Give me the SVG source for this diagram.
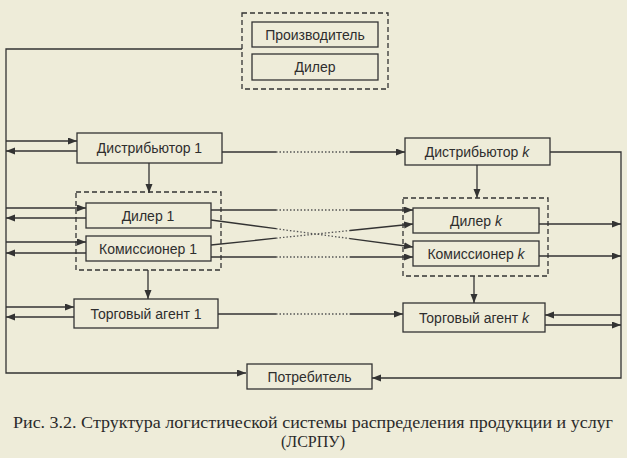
<svg xmlns="http://www.w3.org/2000/svg" width="627" height="458" viewBox="0 0 627 458">
<style>
.bg{fill:#eeecd9}
.box{fill:#eeecd9;stroke:#333;stroke-width:1.3}
.grp{fill:none;stroke:#333;stroke-width:1.3;stroke-dasharray:5,3}
.t{font-family:"Liberation Sans",Arial,sans-serif;font-size:14px;fill:#2e2e2e;text-anchor:middle}
.i{font-style:italic}
.c{fill:none;stroke:#333;stroke-width:1.3}
.d{fill:none;stroke:#555;stroke-width:1.3;stroke-dasharray:1.5,2}
.a{marker-end:url(#ar)}
.cap{font-family:"Liberation Serif","Times New Roman",serif;font-size:16px;fill:#2a2a2a;text-anchor:middle}
</style>
<defs>
<marker id="ar" markerUnits="userSpaceOnUse" markerWidth="10" markerHeight="8" refX="9" refY="3.5" orient="auto">
<path d="M0,0 L9,3.5 L0,7 z" fill="#333"/>
</marker>
</defs>
<rect class="bg" x="0" y="0" width="627" height="458"/>
<g id="connectors">
<path class="c a" d="M242,49 H6 V373 H246"/>
<path class="c a" d="M6,141 H77"/>
<path class="c a" d="M77,151 H6"/>
<path class="c" d="M222,152 H276"/>
<path class="d" d="M276,152 H350"/>
<path class="c a" d="M350,152 H405"/>
<path class="c a" d="M149,163 V193"/>
<path class="c a" d="M550,152 H621 V378 H372"/>
<path class="c a" d="M477,165 V198"/>
<path class="c a" d="M6,208 H86"/>
<path class="c a" d="M86,218 H6"/>
<path class="c a" d="M6,242 H86"/>
<path class="c a" d="M86,253 H6"/>
<path class="c" d="M211,210 H276"/>
<path class="d" d="M276,210 H350"/>
<path class="c a" d="M350,210 H413"/>
<path class="c" d="M211,220 L276,228.7"/>
<path class="d" d="M276,228.7 L350,238.6"/>
<path class="c a" d="M350,238.6 L413,247"/>
<path class="c" d="M211,245 L276,238.2"/>
<path class="d" d="M276,238.2 L350,230.5"/>
<path class="c a" d="M350,230.5 L413,224"/>
<path class="c" d="M211,257 H276"/>
<path class="d" d="M276,257 H350"/>
<path class="c a" d="M350,257 H413"/>
<path class="c a" d="M539,224 H621"/>
<path class="c a" d="M539,256 H621"/>
<path class="c a" d="M148,270 V299"/>
<path class="c a" d="M6,307 H74"/>
<path class="c a" d="M74,317 H6"/>
<path class="c" d="M218,314 H276"/>
<path class="d" d="M276,314 H350"/>
<path class="c a" d="M350,314 H403"/>
<path class="c a" d="M474,276 V303"/>
<path class="c a" d="M621,315 H545"/>
<path class="c a" d="M545,325 H621"/>
</g>
<g id="grp-top"><rect class="grp" x="242" y="13" width="146" height="76"/></g>
<g id="proizvoditel"><rect class="box" x="252" y="22" width="126" height="25"/><text class="t" x="315" y="39.5">Производитель</text></g>
<g id="diler-top"><rect class="box" x="252" y="54" width="126" height="26"/><text class="t" x="315" y="72">Дилер</text></g>
<g id="distr1"><rect class="box" x="77" y="133" width="145" height="30"/><text class="t" x="149.5" y="153">Дистрибьютор 1</text></g>
<g id="distrk"><rect class="box" x="405" y="138" width="145" height="27"/><text class="t" x="477" y="156.5">Дистрибьютор <tspan class="i">k</tspan></text></g>
<g id="grp1"><rect class="grp" x="76" y="192" width="145" height="78"/></g>
<g id="diler1"><rect class="box" x="86" y="203" width="125" height="25"/><text class="t" x="148" y="220.5">Дилер 1</text></g>
<g id="kom1"><rect class="box" x="86" y="236" width="125" height="25"/><text class="t" x="148" y="253.5">Комиссионер 1</text></g>
<g id="grpk"><rect class="grp" x="403" y="198" width="145" height="78"/></g>
<g id="dilerk"><rect class="box" x="413" y="208" width="126" height="25"/><text class="t" x="476" y="225.5">Дилер <tspan class="i">k</tspan></text></g>
<g id="komk"><rect class="box" x="413" y="241" width="126" height="25"/><text class="t" x="476" y="258.5">Комиссионер <tspan class="i">k</tspan></text></g>
<g id="ta1"><rect class="box" x="74" y="299" width="144" height="29"/><text class="t" x="146" y="318.5">Торговый агент 1</text></g>
<g id="tak"><rect class="box" x="403" y="303" width="142" height="29"/><text class="t" x="474" y="322.5">Торговый агент <tspan class="i">k</tspan></text></g>
<g id="potrebitel"><rect class="box" x="247" y="364" width="125" height="25"/><text class="t" x="309.5" y="381.5">Потребитель</text></g>
<text class="cap" x="313" y="428" textLength="600" lengthAdjust="spacingAndGlyphs">Рис. 3.2. Структура логистической системы распределения продукции и услуг</text>
<text class="cap" x="313" y="447">(ЛСРПУ)</text>
</svg>
